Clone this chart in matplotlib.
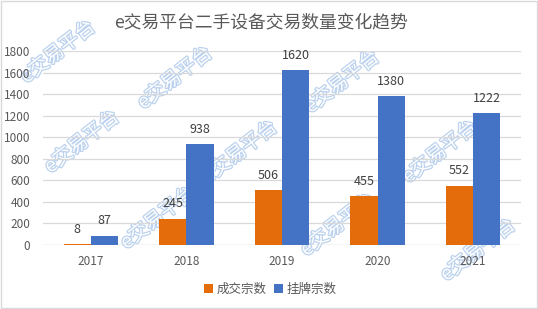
import matplotlib
matplotlib.use("Agg")
import matplotlib.pyplot as plt
import matplotlib.patheffects as pe
from matplotlib.patches import Rectangle
import numpy as np

plt.rcParams['font.family'] = ['Noto Sans CJK SC', 'DejaVu Sans']

title = "e交易平台二手设备交易数量变化趋势"
years = ["2017", "2018", "2019", "2020", "2021"]
deals = [8, 245, 506, 455, 552]
listings = [87, 938, 1620, 1380, 1222]
series_names = ["成交宗数", "挂牌宗数"]
yticks = [0, 200, 400, 600, 800, 1000, 1200, 1400, 1600, 1800]
watermark = "e交易平台"

W, H = 538, 309
fig = plt.figure(figsize=(W / 100, H / 100), dpi=100)
ax = fig.add_axes([43 / W, 1 - 245 / H, (521 - 43) / W, (245 - 51) / H])
ax.set_facecolor('none')

# watermark behind bars
wm_pos = [(58, 52), (175, 78), (82, 142), (240, 152), (158, 218), (342, 82),
          (440, 152), (338, 225), (478, 250)]
for (px, py) in wm_pos:
    fig.text(px / W, 1 - py / H, watermark, fontsize=14, rotation=38,
             ha='center', va='center', color='white', zorder=-1,
             path_effects=[pe.withStroke(linewidth=1.8, foreground='#bcd2ee')])

x = np.arange(len(years))
bw = 0.285
c_or = '#E46C0A'
c_bl = '#4472C4'
b1 = ax.bar(x - bw / 2, deals, bw, color=c_or, label=series_names[0], zorder=3)
b2 = ax.bar(x + bw / 2, listings, bw, color=c_bl, label=series_names[1], zorder=3)

for bars, vals in ((b1, deals), (b2, listings)):
    for r, v in zip(bars, vals):
        ax.annotate(str(v), (r.get_x() + r.get_width() / 2, v), xytext=(0, 6),
                    textcoords='offset points', ha='center', va='bottom',
                    fontsize=9, color='#404040', zorder=4)

ax.set_xlim(-0.5, len(years) - 0.5)
ax.set_ylim(0, 1800)
ax.set_yticks(yticks)
ax.set_yticklabels([str(t) for t in yticks])
ax.set_xticks(x)
ax.set_xticklabels(years)
ax.tick_params(axis='both', length=0, labelsize=8.5, colors='#595959')
ax.tick_params(axis='y', pad=9)
ax.tick_params(axis='x', pad=7)
ax.grid(axis='y', color='#d9d9d9', linewidth=0.9, zorder=0)
ax.set_axisbelow(True)
for s in ax.spines.values():
    s.set_visible(False)
ax.axhline(0, color='#d9d9d9', linewidth=0.9, zorder=1)

fig.text(261 / W, 1 - 22 / H, title, fontsize=12.8, color='#595959',
         ha='center', va='center', fontweight='light')

fig.legend(handles=[b1, b2], labels=series_names, loc='center',
           bbox_to_anchor=(270 / W, 1 - 289 / H), ncol=2, frameon=False,
           fontsize=9, handlelength=0.7, handleheight=0.7, handletextpad=0.3,
           columnspacing=0.6, labelcolor='#595959')

fig.add_artist(Rectangle((0.001, 0.002), 0.997, 0.995, transform=fig.transFigure,
                         fill=False, edgecolor='#d9d9d9', linewidth=1))

fig.savefig('out.png', dpi=100)
